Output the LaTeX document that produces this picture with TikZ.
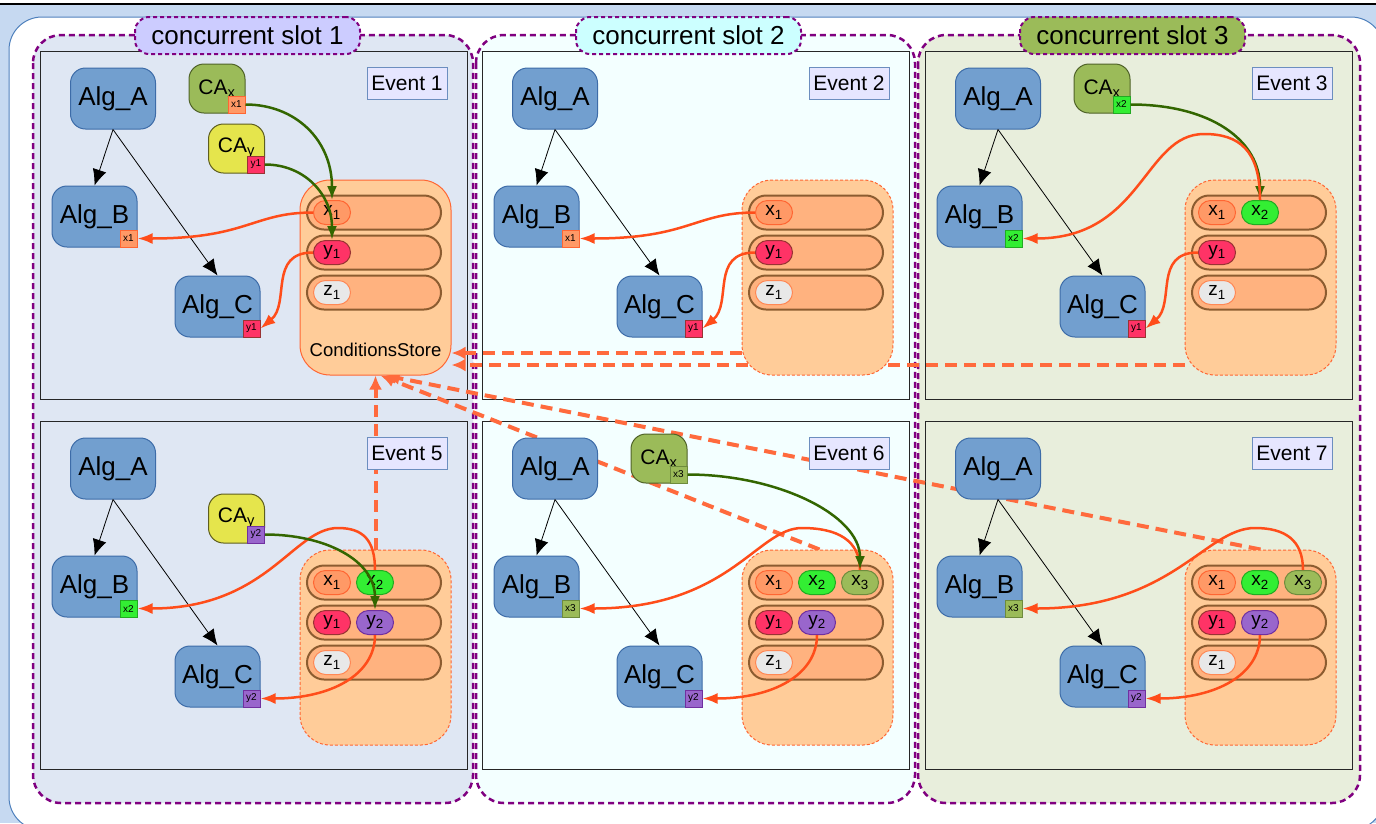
\documentclass[tikz,border=0pt]{standalone}
\usepackage{fontspec}
\setmainfont{Liberation Sans}
\usetikzlibrary{arrows.meta,positioning}

\definecolor{bgblue}{HTML}{C6D9F1}
\definecolor{frameblue}{HTML}{4F81BD}
\definecolor{slotpurple}{HTML}{800080}
\definecolor{slotonefill}{HTML}{DFE7F3}
\definecolor{slottwofill}{HTML}{F3FFFF}
\definecolor{slotthreefill}{HTML}{E8EEDC}
\definecolor{labelone}{HTML}{CCCCFF}
\definecolor{labeltwo}{HTML}{CCFFFF}
\definecolor{labelthree}{HTML}{9BBB59}
\definecolor{evfill}{HTML}{E6E6FF}
\definecolor{evline}{HTML}{6C8EBF}
\definecolor{algfill}{HTML}{729FCF}
\definecolor{algline}{HTML}{3D6CA8}
\definecolor{caxfill}{HTML}{9BBB59}
\definecolor{caxline}{HTML}{4F6228}
\definecolor{cayfill}{HTML}{E5E54C}
\definecolor{cayline}{HTML}{5E5E1E}
\definecolor{storefill}{HTML}{FFCC99}
\definecolor{storeline}{HTML}{FF6633}
\definecolor{rowfill}{HTML}{FFB27F}
\definecolor{rowline}{HTML}{8C5C30}
\definecolor{xonefill}{HTML}{FF9966}
\definecolor{xoneline}{HTML}{FF6633}
\definecolor{xtwofill}{HTML}{33EE33}
\definecolor{xtwoline}{HTML}{22AA22}
\definecolor{xthreefill}{HTML}{9BBB59}
\definecolor{xthreeline}{HTML}{6E8B3D}
\definecolor{yonefill}{HTML}{FF3366}
\definecolor{yoneline}{HTML}{993333}
\definecolor{ytwofill}{HTML}{9966CC}
\definecolor{ytwoline}{HTML}{7030A0}
\definecolor{zonefill}{HTML}{E8E8E8}
\definecolor{zoneline}{HTML}{FF8855}
\definecolor{readline}{HTML}{FF4D1A}
\definecolor{writeline}{HTML}{336600}
\definecolor{shareline}{HTML}{FF6A3D}

\pgfdeclarelayer{bglayer}
\pgfdeclarelayer{edgelayer}
\pgfsetlayers{bglayer,edgelayer,main}
\tikzstyle{slotframe}=[draw=slotpurple,line width=2.5pt,dash pattern=on 6pt off 4pt,rounded corners=28pt]
\tikzstyle{slotlabel}=[draw=slotpurple,line width=2pt,dash pattern=on 4pt off 3pt,rounded corners=14pt,minimum width=225pt,minimum height=37pt,inner sep=0pt,font=\fontsize{26}{30}\selectfont]
\tikzstyle{eventframe}=[draw=black!85,line width=1pt,minimum width=427pt,minimum height=348pt,inner sep=0pt]
\tikzstyle{eventlabel}=[draw=evline,fill=evfill,line width=1pt,minimum width=80pt,minimum height=32pt,inner sep=0pt,font=\fontsize{21}{24}\selectfont]
\tikzstyle{algnode}=[draw=algline,fill=algfill,line width=1pt,rounded corners=15pt,minimum width=85pt,minimum height=61pt,inner sep=0pt,font=\fontsize{26}{30}\selectfont]
\tikzstyle{canode}=[line width=1pt,rounded corners=15pt,minimum width=56pt,minimum height=49pt,inner sep=0pt,font=\fontsize{21}{24}\selectfont]
\tikzstyle{kcax}=[fill=caxfill,draw=caxline]
\tikzstyle{kcay}=[fill=cayfill,draw=cayline]
\tikzstyle{storebox}=[fill=storefill,draw=storeline,line width=1pt,rounded corners=30pt,minimum width=151pt,minimum height=195pt,inner sep=0pt]
\tikzstyle{storecopy}=[storebox,dash pattern=on 3pt off 2pt]
\tikzstyle{storetext}=[inner sep=0pt,font=\fontsize{18.5}{21}\selectfont]
\tikzstyle{storerow}=[fill=rowfill,draw=rowline,line width=2pt,rounded corners=17pt,minimum width=134pt,minimum height=34pt,inner sep=0pt]
\tikzstyle{storeitem}=[line width=1pt,rounded corners=12pt,minimum width=37pt,minimum height=24pt,inner sep=0pt,font=\fontsize{19}{21}\selectfont]
\tikzstyle{datatag}=[line width=1pt,minimum size=17pt,inner sep=0pt,anchor=south east,font=\fontsize{10}{11}\selectfont]
\tikzstyle{kxone}=[fill=xonefill,draw=xoneline]
\tikzstyle{kxtwo}=[fill=xtwofill,draw=xtwoline]
\tikzstyle{kxthree}=[fill=xthreefill,draw=xthreeline]
\tikzstyle{kyone}=[fill=yonefill,draw=yoneline]
\tikzstyle{kytwo}=[fill=ytwofill,draw=ytwoline]
\tikzstyle{kzone}=[fill=zonefill,draw=zoneline]
\tikzstyle{depedge}=[-{Latex[length=16pt,width=14pt]},draw=black,line width=0.8pt]
\tikzstyle{readedge}=[-{Latex[length=15pt,width=11pt]},draw=readline,line width=2.5pt]
\tikzstyle{writeedge}=[-{Latex[length=14pt,width=10pt]},draw=writeline,line width=2.5pt]
\tikzstyle{shareedge}=[-{Latex[length=14pt,width=13pt]},draw=shareline,line width=4pt,dash pattern=on 12pt off 7pt]

\newcommand{\eventpanel}[5]{%
	\begin{scope}[shift={#2}]
		\begin{pgfonlayer}{bglayer}
			\node [style=eventframe, fill=#4] (#1) at (213.5,174) {};
		\end{pgfonlayer}
		\node [style=eventlabel] (#1lab) at (367,32) {Event #3};
		\node [style=algnode] (#1A) at (73,47.5) {Alg\_A};
		\node [style=algnode] (#1B) at (54.5,165.5) {Alg\_B};
		\node [style=algnode] (#1C) at (177.5,255.5) {Alg\_C};
		\node [style=#5] (#1cs) at (335.5,226.5) {};
		\foreach \rw in {1,2,3}
			\node [style=storerow] (#1r\rw) at (334,121.5+40*\rw) {};
		\node [style=storeitem, style=kxone] (#1x1) at (292,161.5) {x\textsubscript{1}};
		\node [style=storeitem, style=kyone] (#1y1) at (292,201.5) {y\textsubscript{1}};
		\node [style=storeitem, style=kzone] (#1z1) at (292,241.5) {z\textsubscript{1}};
	\end{scope}
	\draw [style=depedge] (#1A.south) -- (#1B.north);
	\draw [style=depedge] (#1A.south) -- (#1C.north);
}

\begin{document}
\begin{tikzpicture}[x=1pt,y=-1pt]
	\useasboundingbox (0,0) rectangle (1376,823);
	\begin{pgfonlayer}{bglayer}
		\fill [white] (0,0) rectangle (1376,823);
		\fill [bgblue] (0,4) rectangle (1376,823);
		\draw [black, line width=1.2pt] (0,4) -- (1376,4);
		\draw [frameblue, fill=white, line width=1pt, rounded corners=33pt] (9,17) rectangle (1384,830);
		\draw [style=slotframe, fill=slotonefill] (33,35) rectangle (473,803);
		\draw [style=slotframe, fill=slottwofill] (476,35) rectangle (915,803);
		\draw [style=slotframe, fill=slotthreefill] (918,35) rectangle (1360,803);
	\end{pgfonlayer}
	\node [style=slotlabel, fill=labelone] (slot1) at (247.5,35.5) {concurrent slot 1};
	\node [style=slotlabel, fill=labeltwo] (slot2) at (688.5,35.5) {concurrent slot 2};
	\node [style=slotlabel, fill=labelthree] (slot3) at (1132.5,35.5) {concurrent slot 3};

	\eventpanel{e1}{(40,51)}{1}{slotonefill}{storebox}
	\node [style=storetext] (e1cstext) at ([yshift=26pt]e1cs.south) {ConditionsStore};
	\node [style=datatag, style=kxone] (e1tb) at (e1B.south east) {x1};
	\node [style=datatag, style=kyone] (e1tc) at (e1C.south east) {y1};
	\node [style=canode, style=kcax] (e1cax) at ([shift={(104,-10)}]e1A.center) {CA\textsubscript{x}};
	\node [style=canode, style=kcay] (e1cay) at ([shift={(123.5,50)}]e1A.center) {CA\textsubscript{y}};
	\node [style=datatag, style=kxone] (e1tx) at (e1cax.south east) {x1};
	\node [style=datatag, style=kyone] (e1ty) at (e1cay.south east) {y1};
	\draw [style=readedge] (e1x1.west) .. controls +(-60,0) and +(110,0) .. (e1tb.east);
	\draw [style=readedge] (e1y1.west) .. controls +(-45,0) and +(30,-25) .. (e1tc.east);
	\draw [style=writeedge] (e1tx.east) .. controls +(50,0) and +(0,-60) .. (e1x1.north);
	\draw [style=writeedge] (e1ty.east) .. controls +(40,0) and +(0,-45) .. (e1y1.north);

	\eventpanel{e2}{(482,51)}{2}{slottwofill}{storecopy}
	\node [style=datatag, style=kxone] (e2tb) at (e2B.south east) {x1};
	\node [style=datatag, style=kyone] (e2tc) at (e2C.south east) {y1};
	\draw [style=readedge] (e2x1.west) .. controls +(-60,0) and +(110,0) .. (e2tb.east);
	\draw [style=readedge] (e2y1.west) .. controls +(-45,0) and +(30,-25) .. (e2tc.east);

	\eventpanel{e3}{(925,51)}{3}{slotthreefill}{storecopy}
	\node [style=storeitem, style=kxtwo, right=5pt of e3x1] (e3x2) {x\textsubscript{2}};
	\node [style=datatag, style=kxtwo] (e3tb) at (e3B.south east) {x2};
	\node [style=datatag, style=kyone] (e3tc) at (e3C.south east) {y1};
	\node [style=canode, style=kcax] (e3cax) at ([shift={(104,-10)}]e3A.center) {CA\textsubscript{x}};
	\node [style=datatag, style=kxtwo] (e3tx) at (e3cax.south east) {x2};
	\draw [style=writeedge] (e3tx.east) .. controls +(80,0) and +(0,-60) .. (e3x2.north);
	\draw [style=readedge] (e3x2.north) .. controls +(0,-50) and +(35,0) .. ++(-56,-66) .. controls +(-60,0) and +(120,0) .. (e3tb.east);
	\draw [style=readedge] (e3y1.west) .. controls +(-45,0) and +(30,-25) .. (e3tc.east);

	\eventpanel{e5}{(40,421)}{5}{slotonefill}{storecopy}
	\node [style=storeitem, style=kxtwo, right=5pt of e5x1] (e5x2) {x\textsubscript{2}};
	\node [style=storeitem, style=kytwo, right=5pt of e5y1] (e5y2) {y\textsubscript{2}};
	\node [style=datatag, style=kxtwo] (e5tb) at (e5B.south east) {x2};
	\node [style=datatag, style=kytwo] (e5tc) at (e5C.south east) {y2};
	\node [style=canode, style=kcay] (e5cay) at ([shift={(123.5,50)}]e5A.center) {CA\textsubscript{y}};
	\node [style=datatag, style=kytwo] (e5ty) at (e5cay.south east) {y2};
	\draw [style=readedge] (e5x2.north) .. controls +(0,-30) and +(25,0) .. ++(-37,-42) .. controls +(-45,0) and +(130,0) .. (e5tb.east);
	\draw [style=readedge] (e5y2.south) .. controls +(0,40) and +(70,0) .. (e5tc.east);
	\draw [style=writeedge] (e5ty.east) .. controls +(60,0) and +(0,-50) .. (e5y2.north);

	\eventpanel{e6}{(482,421)}{6}{slottwofill}{storecopy}
	\node [style=storeitem, style=kxtwo, right=5pt of e6x1] (e6x2) {x\textsubscript{2}};
	\node [style=storeitem, style=kxthree, right=5pt of e6x2] (e6x3) {x\textsubscript{3}};
	\node [style=storeitem, style=kytwo, right=5pt of e6y1] (e6y2) {y\textsubscript{2}};
	\node [style=datatag, style=kxthree] (e6tb) at (e6B.south east) {x3};
	\node [style=datatag, style=kytwo] (e6tc) at (e6C.south east) {y2};
	\node [style=canode, style=kcax] (e6cax) at ([shift={(104,-10)}]e6A.center) {CA\textsubscript{x}};
	\node [style=datatag, style=kxthree] (e6tx) at (e6cax.south east) {x3};
	\draw [style=readedge] (e6x3.north) .. controls +(0,-30) and +(35,0) .. ++(-58,-42) .. controls +(-45,0) and +(150,0) .. (e6tb.east);
	\draw [style=readedge] (e6y2.south) .. controls +(0,40) and +(70,0) .. (e6tc.east);
	\draw [style=writeedge] (e6tx.east) .. controls +(90,0) and +(0,-55) .. (e6x3.north);

	\eventpanel{e7}{(925,421)}{7}{slotthreefill}{storecopy}
	\node [style=storeitem, style=kxtwo, right=5pt of e7x1] (e7x2) {x\textsubscript{2}};
	\node [style=storeitem, style=kxthree, right=5pt of e7x2] (e7x3) {x\textsubscript{3}};
	\node [style=storeitem, style=kytwo, right=5pt of e7y1] (e7y2) {y\textsubscript{2}};
	\node [style=datatag, style=kxthree] (e7tb) at (e7B.south east) {x3};
	\node [style=datatag, style=kytwo] (e7tc) at (e7C.south east) {y2};
	\draw [style=readedge] (e7x3.north) .. controls +(0,-30) and +(30,0) .. ++(-48,-42) .. controls +(-50,0) and +(150,0) .. (e7tb.east);
	\draw [style=readedge] (e7y2.south) .. controls +(0,40) and +(70,0) .. (e7tc.east);

	\begin{pgfonlayer}{edgelayer}
		\draw [style=shareedge] ([yshift=-75.5pt]e2cs.west) -- ([yshift=-75.5pt]e1cs.east);
		\draw [style=shareedge] ([yshift=-87.5pt]e3cs.west) -- ([yshift=-87.5pt]e1cs.east);
		\draw [style=shareedge] (e5cs.north) -- (e1cs.south);
		\draw [style=shareedge] ([xshift=2pt]e6cs.north) -- ([xshift=5pt]e1cs.south);
		\draw [style=shareedge] (e7cs.north) -- ([xshift=10pt]e1cs.south);
	\end{pgfonlayer}
\end{tikzpicture}
\end{document}
